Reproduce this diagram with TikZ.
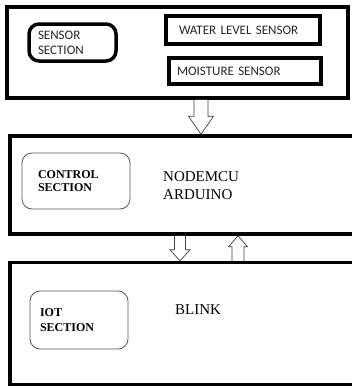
\documentclass[tikz,border=0pt]{standalone}
\usepackage{fontspec}
\setmainfont{Liberation Serif}
\newfontfamily\calfont{Carlito}
\usetikzlibrary{positioning, calc}

\tikzset{
  block/.style={rectangle, draw, line width=3.5pt, inner sep=0pt},
  sensbox/.style={rectangle, draw, line width=3.5pt, align=left, text=black!85, font=\calfont\fontsize{13}{15}\selectfont},
  sectbox/.style={rectangle, draw=black!65, rounded corners=10pt, line width=0.8pt, align=left, font=\bfseries\fontsize{12}{13}\selectfont},
  hollow/.style={draw=black!75, fill=white, line width=0.7pt, line join=miter},
  plain/.style={inner sep=0pt, align=left, font=\fontsize{15}{18}\selectfont},
}

% hollow block arrow: from, to, shaft half width, head half width, head length
\newcommand{\hollowarrow}[5]{%
  \filldraw[hollow] let \p1=#1, \p2=#2, \n1={ifthenelse(\y2<\y1,1,-1)} in
    (\x1-#3pt,\y1) -- (\x1-#3pt,\y2+\n1*#5pt) -- (\x1-#4pt,\y2+\n1*#5pt) -- (\x2,\y2)
    -- (\x1+#4pt,\y2+\n1*#5pt) -- (\x1+#3pt,\y2+\n1*#5pt) -- (\x1+#3pt,\y1);
}

\begin{document}
\begin{tikzpicture}[x=1pt, y=-1pt]
      \clip (0,0) rectangle (352,389);
      \fill[white] (0,0) rectangle (352,389);

      % Sensor block
      \node[block, minimum width=341pt, minimum height=91pt] (sensorblk) at (177.5,52.5) {};
      \node[sensbox, rounded corners=10pt, text width=69pt, inner xsep=9pt, minimum height=37pt] (sensorsec) at (72.5,42.5) {SENSOR\\SECTION};
      \node[sensbox, text width=128pt, inner xsep=13pt, inner ysep=0pt, minimum height=28pt] (water) at (243,30) {WATER LEVEL SENSOR};
      \node[sensbox, text width=136pt, inner xsep=8pt, inner ysep=0pt, minimum height=26pt] (moist) at (245,71) {MOISTURE SENSOR};

      % Control block
      \node[block, minimum width=355pt, minimum height=98pt] (controlblk) at (187.5,185) {};
      \node[sectbox, text width=76pt, inner xsep=16pt, minimum height=56pt] (ctrlsec) at (76,181) {CONTROL\\SECTION};
      \node[plain, anchor=west] (mcu) at (163,186) {NODEMCU\\ARDUINO};

      % IoT block
      \node[block, minimum width=355pt, minimum height=122pt] (iotblk) at (187.5,323.5) {};
      \node[sectbox, text width=78pt, inner xsep=10pt, minimum height=58pt, font=\bfseries\fontsize{12}{15}\selectfont] (iotsec) at (79,320) {IOT\\SECTION};
      \node[plain, anchor=west] (blink) at (175,310) {BLINK};

      % Arrows
      \coordinate (ax1) at (201,0);
      \coordinate (ax2) at (180,0);
      \coordinate (ax3) at (238,0);
      \hollowarrow{(sensorblk.south -| ax1)}{(controlblk.north -| ax1)}{7}{12.5}{18}
      \hollowarrow{(controlblk.south -| ax2)}{(iotblk.north -| ax2)}{5.5}{10}{11}
      \hollowarrow{(iotblk.north -| ax3)}{(controlblk.south -| ax3)}{6}{9.5}{11}
\end{tikzpicture}
\end{document}
